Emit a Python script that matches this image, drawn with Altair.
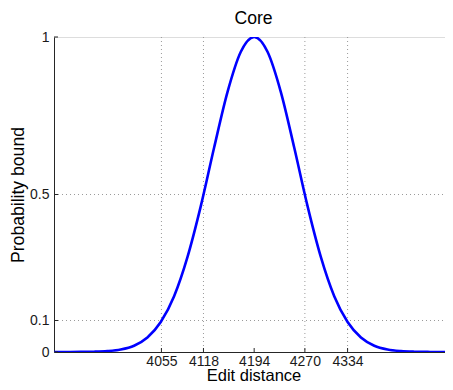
import altair as alt
import pandas as pd

# Curve
edit_distance = [3894, 3914, 3934, 3954, 3974, 3994, 4014, 4034, 4054, 4074,
                 4094, 4114, 4134, 4154, 4174, 4194, 4214, 4234, 4254, 4274,
                 4294, 4314, 4334, 4354, 4374, 4394, 4414, 4434, 4454, 4474, 4494]
prob_bound = [0.0, 0.0001, 0.0003, 0.001, 0.003, 0.008, 0.020, 0.046, 0.095, 0.177,
              0.301, 0.463, 0.649, 0.825, 0.953, 1.0, 0.953, 0.825, 0.649, 0.463,
              0.301, 0.177, 0.095, 0.046, 0.020, 0.008, 0.003, 0.001, 0.0003, 0.0001, 0.0]

x_ticks = [4055, 4118, 4194, 4270, 4334]
x_grid = [4055, 4118, 4270, 4334]
y_ticks = [0, 0.1, 0.5, 1]
y_grid = [0.1, 0.5]
title_text = ["Core"]

FONT = "Liberation Sans"
W, H = 391, 315
XDOM = [3894, 4480]

df = pd.DataFrame({"x": edit_distance, "y": prob_bound})
xscale = alt.Scale(domain=XDOM, nice=False, zero=False)
yscale = alt.Scale(domain=[0, 1], nice=False)

grid_style = dict(color="#9a9a9a", strokeDash=[1, 3], strokeWidth=1)

vgrid = alt.Chart(pd.DataFrame({"x": x_grid})).mark_rule(**grid_style).encode(
    x=alt.X("x:Q", scale=xscale), y=alt.value(0), y2=alt.value(H))
hgrid = alt.Chart(pd.DataFrame({"y": y_grid})).mark_rule(**grid_style).encode(
    y=alt.Y("y:Q", scale=yscale), x=alt.value(0), x2=alt.value(W))

xtick = alt.Chart(pd.DataFrame({"x": x_ticks})).mark_rule(color="#262626", strokeWidth=1).encode(
    x=alt.X("x:Q", scale=xscale), y=alt.value(H), y2=alt.value(H - 4))
ytick = alt.Chart(pd.DataFrame({"y": y_ticks})).mark_rule(color="#262626", strokeWidth=1).encode(
    y=alt.Y("y:Q", scale=yscale), x=alt.value(0), x2=alt.value(4))

title = alt.Chart(pd.DataFrame({"t": title_text})).mark_text(
    font=FONT, fontSize=17.6, color="#000000", align="center", baseline="alphabetic"
).encode(text="t:N", x=alt.value(W / 2 + 4), y=alt.value(-13))

line = alt.Chart(df).mark_line(color="#0000ff", strokeWidth=2.6, interpolate="monotone", clip=True).encode(
    x=alt.X("x:Q", scale=xscale,
            axis=alt.Axis(title="Edit distance", values=x_ticks, grid=False, ticks=False,
                          format="d", labelPadding=2, labelFontSize=14, labelFont=FONT,
                          labelColor="#1a1a1a", titleFontSize=16.5, titleFont=FONT,
                          titleFontWeight="normal", titleColor="#000000",
                          titleBaseline="alphabetic", titleY=28.5, titleX=W / 2 + 4,
                          domainColor="#262626", labelFlush=False)),
    y=alt.Y("y:Q", scale=yscale,
            axis=alt.Axis(title="Probability bound", values=y_ticks, grid=False, ticks=False,
                          format="~g", labelPadding=5, labelFontSize=14, labelFont=FONT,
                          labelColor="#1a1a1a", titleFontSize=17.6, titleFont=FONT,
                          titleFontWeight="normal", titleColor="#000000",
                          titleBaseline="alphabetic", titleX=-31, titleY=H / 2,
                          domainColor="#262626", labelFlush=False)),
)

chart = alt.layer(vgrid, hgrid, line, xtick, ytick, title).properties(
    width=W, height=H,
    autosize=alt.AutoSizeParams(type="none"),
    padding={"left": 46, "top": 29, "right": 0, "bottom": 30},
).configure_view(stroke=None).configure(background="white")

chart.save("out.html", embed_options={"renderer": "svg", "actions": False})
